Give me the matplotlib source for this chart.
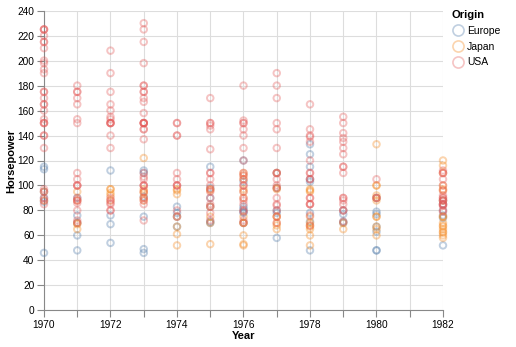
import matplotlib
matplotlib.use("Agg")
import matplotlib.pyplot as plt
from matplotlib.lines import Line2D
from matplotlib.ticker import MultipleLocator, FixedLocator

plt.rcParams['font.family'] = ['Liberation Sans', 'DejaVu Sans']

origins = ["Europe", "Japan", "USA"]
colors = ["#4c78a8", "#f58518", "#e45756"]

europe_hp = {
    1970: [115, 46, 87, 90, 95, 113],
    1971: [90, 70, 76, 60, 48],
    1972: [112, 76, 69, 54],
    1973: [112, 110, 91, 75, 49, 46],
    1974: [83, 78, 75, 67],
    1975: [115, 98, 90, 83, 71, 70],
    1976: [120, 103, 83, 81, 79, 78, 70],
    1977: [110, 98, 80, 78, 58],
    1978: [133, 125, 115, 105, 103, 78, 71, 48],
    1979: [80, 77, 71, 70],
    1980: [90, 79, 77, 67, 63, 48, 48],
    1982: [85, 80, 76, 74, 52, 88],
}
japan_hp = {
    1970: [95, 88],
    1971: [95, 88, 65, 69, 70],
    1972: [97, 97, 94, 92, 88],
    1973: [122, 97, 95, 94, 88, 90],
    1974: [97, 96, 93, 75, 67, 61, 52],
    1975: [97, 96, 83, 75, 70, 53],
    1976: [110, 108, 105, 97, 95, 90, 75, 70, 70, 60, 53, 52],
    1977: [110, 98, 97, 75, 75, 70, 68, 65],
    1978: [97, 96, 95, 75, 70, 68, 67, 65, 60, 52],
    1979: [70, 65],
    1980: [133, 100, 100, 92, 90, 88, 75, 75, 67, 65, 60],
    1982: [120, 116, 110, 100, 97, 96, 88, 75, 75, 70, 68, 67, 65, 63, 62, 60, 58],
}
usa_hp = {
    1970: [130, 165, 150, 150, 140, 198, 220, 215, 225, 190, 170, 160, 150, 225,
           95, 97, 85, 90, 215, 210, 200, 193, 165, 153, 175, 175, 140, 225, 88],
    1971: [180, 175, 175, 170, 165, 153, 150, 110, 105, 100, 100, 100, 90, 88, 88,
           86, 80, 72, 70],
    1972: [208, 190, 175, 165, 160, 155, 153, 150, 150, 150, 150, 140, 130, 86, 88,
           80, 80, 90, 85],
    1973: [230, 225, 215, 198, 180, 180, 175, 175, 170, 167, 158, 150, 150, 150, 150,
           150, 145, 145, 137, 110, 107, 105, 100, 100, 100, 95, 88, 85, 72, 90],
    1974: [150, 150, 140, 140, 110, 105, 100, 100, 100, 80, 75],
    1975: [170, 150, 150, 148, 145, 129, 110, 110, 105, 100, 97, 95, 90, 85, 83, 72, 78],
    1976: [180, 152, 150, 150, 145, 140, 130, 120, 110, 108, 105, 100, 100, 95, 90,
           88, 85, 80, 79, 72, 70],
    1977: [190, 180, 170, 150, 145, 130, 110, 110, 105, 100, 98, 90, 85, 84, 80, 75, 70],
    1978: [165, 145, 140, 139, 135, 120, 110, 110, 105, 105, 90, 90, 85, 85, 85, 76, 68],
    1979: [155, 150, 142, 138, 135, 130, 125, 115, 115, 110, 90, 90, 88, 85, 80, 80, 71],
    1980: [105, 90, 90],
    1982: [112, 110, 110, 105, 92, 90, 90, 88, 88, 85, 85, 84, 84, 80, 79, 96, 100],
}
series = [europe_hp, japan_hp, usa_hp]

fig = plt.figure(figsize=(5.16, 3.47), dpi=100)
ax = fig.add_axes([44 / 516, 1 - 310.3 / 347, (443 - 44) / 516, (310.3 - 10.7) / 347])

for data, col in zip(series, colors):
    xs, ys = [], []
    for yr, vals in data.items():
        xs += [yr] * len(vals)
        ys += vals
    ax.scatter(xs, ys, s=22, facecolors='none', edgecolors=col, linewidths=1.4,
               alpha=0.35, clip_on=False, zorder=3)

ax.set_xlim(1970, 1982)
ax.set_ylim(0, 240)
ax.xaxis.set_major_locator(FixedLocator(list(range(1970, 1983))))
ax.set_xticklabels([str(y) if y % 2 == 0 else "" for y in range(1970, 1983)])
ax.yaxis.set_major_locator(MultipleLocator(20))
ax.grid(True, color='#dddddd', linewidth=0.8, zorder=0)
ax.set_axisbelow(True)
for s in ['top', 'right']:
    ax.spines[s].set_visible(False)
for s in ['left', 'bottom']:
    ax.spines[s].set_color('#888888')
    ax.spines[s].set_linewidth(0.8)
ax.tick_params(axis='both', colors='#888888', length=5, width=0.8, labelsize=7.3,
               labelcolor='black', pad=2)
ax.set_xlabel("Year", fontsize=8, fontweight='bold')
ax.set_ylabel("Horsepower", fontsize=8, fontweight='bold')
ax.xaxis.set_label_coords(0.5, (310.3 - 336) / 299.6)
ax.yaxis.set_label_coords((11 - 44) / 399, 0.5)
ax.yaxis.label.set_va('center')
ax.xaxis.label.set_va('center')

handles = [Line2D([0], [0], marker='o', linestyle='none', markerfacecolor='none',
                  markeredgecolor=c, markeredgewidth=1.2, markersize=8, alpha=0.35)
           for c in colors]
leg = fig.legend(handles, origins, title="Origin", loc='upper left',
                 bbox_to_anchor=(444 / 516, 1 - 3 / 347), frameon=False,
                 fontsize=7.5, title_fontsize=8, handletextpad=0.3,
                 labelspacing=0.55, borderpad=0.2, handlelength=1.2, alignment='left')
leg.get_title().set_fontweight('bold')

fig.savefig("out.png", dpi=100)
